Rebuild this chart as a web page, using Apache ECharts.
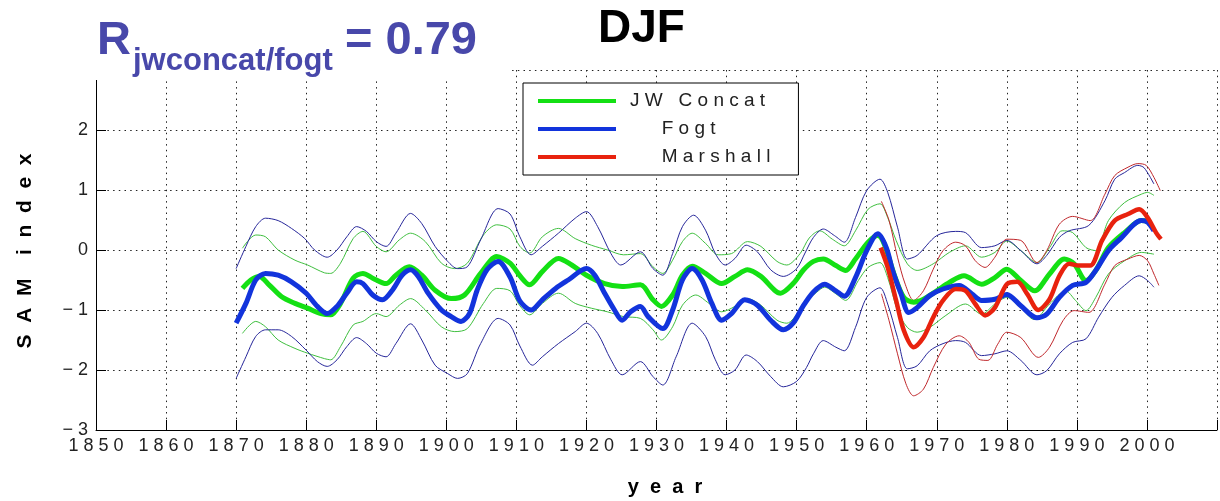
<!DOCTYPE html>
<html>
<head>
<meta charset="utf-8">
<title>DJF SAM index</title>
<script src="https://cdn.jsdelivr.net/npm/echarts@6/dist/echarts.min.js"></script>
<style>
  html, body { margin: 0; padding: 0; background: #fff; }
  #sam-chart { width: 1220px; height: 501px; }
</style>
</head>
<body>
<div id="sam-chart"></div>
<script>
// axis ticks
const yearTicks = [1850, 1860, 1870, 1880, 1890, 1900, 1910, 1920, 1930, 1940, 1950, 1960, 1970, 1980, 1990, 2000];
const samTicks = [-3, -2, -1, 0, 1, 2, 3];

// [year, SAM index]
const jwMean = [[1870.9,-0.64],[1872.1,-0.5],[1873.3,-0.44],[1874.7,-0.58],[1876.5,-0.78],[1878.4,-0.89],[1880.2,-0.97],[1882.1,-1.06],[1883.5,-1.08],[1884.9,-0.89],[1886.7,-0.47],[1888.1,-0.39],[1889.5,-0.47],[1891.4,-0.56],[1892.8,-0.42],[1894.7,-0.28],[1896.5,-0.42],[1898.4,-0.67],[1900.7,-0.81],[1902.6,-0.75],[1904.9,-0.39],[1907.2,-0.11],[1909.1,-0.22],[1910.5,-0.43],[1911.9,-0.58],[1913.7,-0.36],[1916,-0.14],[1917.9,-0.25],[1920,-0.42],[1922.6,-0.56],[1925.1,-0.61],[1927.7,-0.58],[1929.5,-0.83],[1930.7,-0.94],[1932.3,-0.75],[1933.7,-0.42],[1935.1,-0.27],[1937,-0.39],[1939.3,-0.56],[1941.2,-0.44],[1943,-0.33],[1944.9,-0.44],[1947.7,-0.72],[1949.5,-0.56],[1951,-0.33],[1952.4,-0.19],[1953.8,-0.15],[1955.6,-0.26],[1957,-0.34],[1958.4,-0.15],[1960.2,0.13],[1961.6,0.24],[1962.5,0.1],[1963.9,-0.4],[1965.3,-0.79],[1966.7,-0.87],[1968.1,-0.82],[1970,-0.68],[1971.8,-0.54],[1973.9,-0.43],[1976.4,-0.57],[1978.3,-0.46],[1980,-0.32],[1982,-0.51],[1984,-0.68],[1986.1,-0.4],[1988.2,-0.15],[1989.6,-0.23],[1991.3,-0.51],[1992.7,-0.34],[1994.5,0.04],[1996.8,0.29],[1999.2,0.49],[2000.5,0.47]];
const jwUpper = [[1870.9,0.03],[1872.8,0.25],[1874.2,0.22],[1876,0],[1878.4,-0.17],[1880.2,-0.25],[1882.6,-0.38],[1883.5,-0.39],[1884.9,-0.22],[1886.7,0.19],[1888.1,0.31],[1890,0.06],[1891.4,-0.03],[1893.3,0.17],[1894.9,0.28],[1897,0.14],[1899.3,-0.22],[1901.2,-0.31],[1903,-0.22],[1905.3,0.25],[1907.2,0.42],[1909.1,0.35],[1910.5,0.06],[1911.9,-0.05],[1913.7,0.22],[1916,0.36],[1918.4,0.19],[1920.7,0.08],[1923,0],[1925.3,-0.08],[1927.7,-0.06],[1929.5,-0.28],[1930.9,-0.39],[1932.3,-0.17],[1933.7,0.14],[1935.1,0.28],[1937,0.11],[1938.8,-0.08],[1940.7,-0.06],[1943,0.14],[1944.9,0.06],[1947.2,-0.19],[1948.6,-0.25],[1950.5,-0.06],[1951.8,0.2],[1953.3,0.32],[1955.1,0.18],[1956.8,0.07],[1958.4,0.32],[1960.2,0.68],[1961.9,0.77],[1963,0.54],[1964.2,0.16],[1965.8,-0.23],[1967.2,-0.34],[1969.5,-0.23],[1971.8,-0.04],[1974.1,0.07],[1976.4,-0.12],[1978.3,-0.04],[1980,0.15],[1982,-0.01],[1984.3,-0.21],[1986.1,0.04],[1987.9,0.32],[1989.4,0.29],[1991.3,0.04],[1992.7,-0.01],[1994.5,0.49],[1996.8,0.79],[1999.2,0.93],[2000.1,0.96],[2001,0.91]];
const jwLower = [[1870.9,-1.39],[1872.8,-1.19],[1874.2,-1.28],[1876,-1.5],[1878.4,-1.64],[1880.2,-1.72],[1882.6,-1.81],[1883.5,-1.83],[1884.9,-1.61],[1886.7,-1.25],[1888.1,-1.19],[1890,-1.06],[1891.4,-1.11],[1893.3,-0.92],[1894.9,-0.81],[1897,-1.0],[1899.3,-1.28],[1901.2,-1.36],[1903,-1.31],[1905.3,-0.89],[1907.2,-0.64],[1909.1,-0.68],[1910.5,-0.93],[1911.9,-1.08],[1913.7,-0.89],[1916,-0.72],[1918.4,-0.89],[1920.7,-0.97],[1923,-1.03],[1925.3,-1.11],[1927.7,-1.14],[1929.5,-1.33],[1930.7,-1.5],[1932.3,-1.28],[1933.7,-0.92],[1935.6,-0.75],[1937.5,-0.89],[1939.3,-1.03],[1941.2,-0.94],[1943,-0.81],[1944.9,-0.92],[1947.2,-1.17],[1948.6,-1.22],[1950.5,-1.0],[1951.2,-0.88],[1952.8,-0.71],[1954,-0.62],[1955.6,-0.73],[1957,-0.84],[1958.8,-0.51],[1960.2,-0.29],[1961.9,-0.21],[1963,-0.46],[1964.4,-1.01],[1965.8,-1.29],[1967.2,-1.37],[1969,-1.29],[1971.3,-1.09],[1974.1,-0.9],[1976.4,-1.07],[1978.3,-0.9],[1980,-0.79],[1982,-0.96],[1983.9,-1.16],[1986.1,-0.9],[1988.4,-0.68],[1989.8,-0.84],[1991.3,-1.01],[1992.7,-0.79],[1994.5,-0.4],[1996.8,-0.18],[1999.2,-0.04],[2001,-0.07]];

const fogtMean = [[1870,-1.22],[1871.4,-0.89],[1872.8,-0.5],[1874.2,-0.39],[1876,-0.42],[1877.9,-0.53],[1880,-0.72],[1881.6,-0.94],[1883,-1.06],[1884.4,-0.94],[1885.8,-0.72],[1887.2,-0.53],[1888.1,-0.56],[1889.5,-0.75],[1890.9,-0.83],[1892.3,-0.67],[1893.7,-0.42],[1894.9,-0.33],[1896,-0.44],[1897.4,-0.72],[1899.3,-1.0],[1900.7,-1.11],[1902.1,-1.19],[1903.3,-1.06],[1904.4,-0.67],[1905.8,-0.33],[1907.4,-0.19],[1909.1,-0.45],[1910.5,-0.85],[1912.1,-1.0],[1913.7,-0.83],[1915.6,-0.64],[1917.4,-0.5],[1920,-0.31],[1921.2,-0.42],[1922.6,-0.72],[1924,-1.0],[1925.1,-1.17],[1926.3,-1.03],[1927.7,-0.94],[1928.8,-1.11],[1930.9,-1.31],[1932.3,-1.0],[1933.7,-0.5],[1935.1,-0.31],[1936.5,-0.5],[1937.9,-0.89],[1939.3,-1.17],[1940.7,-1.06],[1942.6,-0.83],[1944.4,-0.92],[1946.3,-1.17],[1948.1,-1.33],[1949.5,-1.22],[1950.9,-0.94],[1952.4,-0.7],[1954,-0.57],[1955.6,-0.68],[1956.8,-0.77],[1958.4,-0.46],[1960,-0.01],[1961.6,0.27],[1962.8,0.04],[1963.7,-0.34],[1964.9,-0.73],[1966,-1.04],[1967.2,-0.96],[1969,-0.76],[1970.9,-0.65],[1973.2,-0.59],[1975,-0.73],[1976.4,-0.84],[1978.3,-0.82],[1980,-0.74],[1982,-0.93],[1984.3,-1.13],[1985.7,-1.07],[1987.5,-0.79],[1989.4,-0.59],[1991.3,-0.54],[1992.7,-0.34],[1994.5,-0.01],[1996.4,0.21],[1998.2,0.43],[1999.2,0.49],[2000.1,0.46],[2001,0.32]];
const fogtUpper = [[1870,-0.31],[1871.4,0.06],[1872.8,0.39],[1874.2,0.53],[1876,0.49],[1877.9,0.36],[1879.8,0.19],[1881.2,0],[1883,-0.12],[1884.4,0],[1885.8,0.22],[1887.2,0.39],[1888.6,0.31],[1890,0.14],[1891.4,0.06],[1892.8,0.28],[1894.9,0.61],[1896.5,0.44],[1898.4,0.06],[1900.2,-0.19],[1901.6,-0.31],[1903,-0.28],[1904.9,0.17],[1907.4,0.69],[1909.1,0.6],[1910.5,0.22],[1912.1,-0.08],[1913.7,0.06],[1916,0.28],[1918.4,0.53],[1920,0.64],[1921.6,0.39],[1923.5,-0.06],[1924.9,-0.25],[1927.7,-0.03],[1929.5,-0.31],[1930.9,-0.42],[1932.3,-0.06],[1933.7,0.39],[1935.3,0.58],[1937,0.33],[1938.4,-0.06],[1939.8,-0.25],[1941.2,-0.14],[1942.8,0.08],[1944.4,-0.03],[1946.3,-0.33],[1948.1,-0.44],[1950,-0.31],[1951.2,-0.05],[1952.4,0.21],[1953.8,0.35],[1955.4,0.24],[1956.8,0.13],[1958.4,0.54],[1960,0.99],[1961.9,1.18],[1963,0.96],[1964.4,0.38],[1965.8,-0.15],[1967.2,-0.09],[1970,0.24],[1972.7,0.31],[1974.1,0.29],[1976.4,0.04],[1978.3,0.07],[1980,0.16],[1982,-0.01],[1984.3,-0.23],[1985.7,-0.09],[1987.5,0.21],[1988.9,0.32],[1991.7,0.41],[1994,0.82],[1995.4,1.18],[1996.8,1.29],[1998.7,1.41],[1999.6,1.37],[2001,1.1]];
const fogtLower = [[1870,-2.14],[1871.4,-1.78],[1872.8,-1.44],[1874.2,-1.33],[1876,-1.33],[1877.9,-1.44],[1880,-1.67],[1881.6,-1.86],[1883,-1.94],[1884.4,-1.83],[1885.8,-1.61],[1887.2,-1.46],[1888.6,-1.56],[1890,-1.72],[1891.4,-1.78],[1892.8,-1.56],[1894.9,-1.23],[1896.5,-1.5],[1898.4,-1.92],[1900.2,-2.06],[1901.6,-2.14],[1903,-2.06],[1904.9,-1.56],[1907.4,-1.14],[1909.1,-1.25],[1910.5,-1.6],[1912.3,-1.92],[1913.7,-1.78],[1916,-1.56],[1918.4,-1.36],[1920,-1.22],[1921.6,-1.39],[1923.5,-1.83],[1925.1,-2.08],[1927.7,-1.86],[1929.5,-2.11],[1930.9,-2.25],[1932.8,-1.78],[1935.1,-1.22],[1937,-1.44],[1938.4,-1.83],[1939.8,-2.08],[1941.2,-2.0],[1942.8,-1.75],[1944.4,-1.86],[1946.3,-2.11],[1948.1,-2.28],[1950,-2.19],[1951.4,-1.96],[1952.4,-1.73],[1953.8,-1.51],[1955.6,-1.62],[1956.8,-1.68],[1958.4,-1.29],[1960,-0.79],[1961.9,-0.63],[1963,-0.9],[1964.4,-1.46],[1965.8,-1.98],[1967.2,-1.93],[1969,-1.68],[1970.9,-1.56],[1972.7,-1.51],[1974.1,-1.54],[1976.4,-1.76],[1978.3,-1.73],[1980,-1.68],[1982,-1.84],[1984.3,-2.08],[1985.7,-2.01],[1987.5,-1.73],[1989.4,-1.54],[1991.3,-1.48],[1993.1,-1.12],[1995,-0.79],[1996.8,-0.59],[1998.9,-0.43],[2000.1,-0.51],[2001,-0.62]];

const marshallMean = [[1962,0.04],[1963,-0.29],[1964.2,-0.84],[1965.3,-1.34],[1966.7,-1.62],[1968.1,-1.46],[1969.5,-1.12],[1970.9,-0.84],[1972.7,-0.65],[1974.1,-0.68],[1975.5,-0.9],[1976.9,-1.09],[1978.3,-0.96],[1980,-0.57],[1981.5,-0.53],[1982.9,-0.73],[1984.5,-1.0],[1986.1,-0.82],[1987.5,-0.43],[1988.9,-0.23],[1990.3,-0.26],[1991.9,-0.26],[1993.6,0.16],[1995.4,0.49],[1997.3,0.6],[1998.9,0.68],[2000.1,0.54],[2001.3,0.29],[2002,0.18]];
const marshallUpper = [[1962.1,0.81],[1963.2,0.49],[1964.4,-0.12],[1965.5,-0.57],[1966.7,-0.84],[1968.1,-0.68],[1969.5,-0.32],[1970.9,-0.01],[1972.7,0.13],[1974.1,0.07],[1975.5,-0.18],[1976.9,-0.29],[1978.3,-0.12],[1980,0.18],[1982,0.16],[1984.3,-0.21],[1985.7,-0.01],[1987.5,0.43],[1989.4,0.56],[1991.9,0.49],[1994,0.93],[1995.4,1.24],[1997.3,1.38],[1998.7,1.44],[1999.9,1.41],[2001,1.21],[2001.9,0.99]];
const marshallLower = [[1962.1,-0.73],[1963.2,-1.18],[1964.4,-1.73],[1965.6,-2.23],[1966.7,-2.43],[1968.1,-2.32],[1969.5,-1.96],[1971.3,-1.57],[1973.2,-1.43],[1974.6,-1.54],[1976,-1.82],[1977.3,-1.84],[1978.7,-1.57],[1980,-1.37],[1982,-1.46],[1984.5,-1.79],[1986.1,-1.62],[1988,-1.18],[1989.6,-1.01],[1991.7,-1.04],[1994,-0.57],[1995.4,-0.26],[1997.3,-0.15],[1998.9,-0.09],[2000.1,-0.18],[2001,-0.4],[2001.7,-0.59]];

const legendNames = ["JW Concat", "Fogt", "Marshall"];
const legendText = {
  "JW Concat": "J W   C o n c a t",
  "Fogt": "      F o g t",
  "Marshall": "      M a r s h a l l"
};

const FONT = "'Liberation Sans', Arial, sans-serif";
const spaced = s => String(s).split("").join(" ");

function line(name, data, color, width, z) {
  return {
    name: name,
    type: "line",
    data: data,
    symbol: "none",
    smooth: 0.3,
    z: z,
    lineStyle: { color: color, width: width },
    itemStyle: { color: color },
    emphasis: { disabled: true }
  };
}

const chart = echarts.init(document.getElementById("sam-chart"));

let option = {
  animation: false,
  backgroundColor: "#fff",
  grid: { left: 96, right: -23, top: 70, bottom: 71 },
  legend: {
    data: legendNames,
    orient: "vertical",
    left: 523,
    top: 83,
    icon: "rect",
    itemWidth: 78,
    itemHeight: 4,
    itemGap: 8,
    padding: [8, 28, 8, 15],
    backgroundColor: "#fff",
    borderColor: "#000",
    borderWidth: 1,
    itemStyle: { borderWidth: 0 },
    selectedMode: false,
    formatter: n => legendText[n],
    textStyle: { fontFamily: FONT, fontSize: 19, lineHeight: 20, color: "#222", padding: [0, 0, 0, 9] }
  },
  xAxis: {
    type: "value",
    min: 1850,
    max: 2010,
    interval: 10,
    axisLine: { onZero: false, lineStyle: { color: "#000", width: 1 } },
    axisTick: { inside: true, length: 10, lineStyle: { color: "#000" } },
    axisLabel: {
      margin: 7,
      fontFamily: FONT,
      fontSize: 18,
      color: "#222",
      formatter: v => (yearTicks.indexOf(v) >= 0 ? spaced(v) : "")
    },
    splitLine: { show: true, lineStyle: { color: "#222", width: 1, type: [1.5, 4.2] } }
  },
  yAxis: {
    type: "value",
    min: -3,
    max: 3,
    interval: 1,
    axisLine: { show: true, onZero: false, lineStyle: { color: "#000", width: 1 } },
    axisTick: { show: true, inside: true, length: 10, lineStyle: { color: "#000" } },
    axisLabel: {
      margin: 8,
      fontFamily: FONT,
      fontSize: 18,
      color: "#222",
      formatter: v => (samTicks.indexOf(v) < 0 ? "" : v < 0 ? "\u2212 " + (-v) : String(v))
    },
    splitLine: { show: true, lineStyle: { color: "#222", width: 1, type: [1.5, 4.2] } }
  },
  series: [
    line("JW Concat upper", jwUpper, "#3fbf3f", 1, 2),
    line("JW Concat lower", jwLower, "#3fbf3f", 1, 2),
    line("Fogt upper", fogtUpper, "#26269a", 1, 2),
    line("Fogt lower", fogtLower, "#26269a", 1, 2),
    line("Marshall upper", marshallUpper, "#c0282c", 1, 2),
    line("Marshall lower", marshallLower, "#c0282c", 1, 2),
    line("JW Concat", jwMean, "#14e014", 5, 3),
    line("Fogt", fogtMean, "#1234dc", 5, 4),
    line("Marshall", marshallMean, "#e8220e", 4.5, 5)
  ],
  graphic: [
    // white text box over the top-left corner
    { type: "rect", left: 0, top: 0, shape: { width: 510, height: 80 }, style: { fill: "#fff" }, z: 100 },
    { type: "text", x: 97, y: 41, z: 101, style: { text: "R", font: "bold 47px " + FONT, fill: "#4848aa", verticalAlign: "middle" } },
    { type: "text", x: 133, y: 61, z: 101, style: { text: "jwconcat/fogt", font: "bold 31px " + FONT, fill: "#4848aa", verticalAlign: "middle" } },
    { type: "text", x: 345, y: 41, z: 101, style: { text: "= 0.79", font: "bold 47px " + FONT, fill: "#4848aa", verticalAlign: "middle" } },
    { type: "text", x: 598, y: 29, z: 101, style: { text: "DJF", font: "bold 46px " + FONT, fill: "#000", verticalAlign: "middle" } },
    { type: "text", x: 665, y: 487, z: 101, style: { text: "y  e  a  r", font: "bold 20px " + FONT, fill: "#000", align: "center", verticalAlign: "middle" } },
    { type: "text", x: 25, y: 251, rotation: Math.PI / 2, z: 101, style: { text: "S  A  M    i  n  d  e  x", font: "bold 21px " + FONT, fill: "#000", align: "center", verticalAlign: "middle" } }
  ]
};

chart.setOption(option);
</script>
</body>
</html>
